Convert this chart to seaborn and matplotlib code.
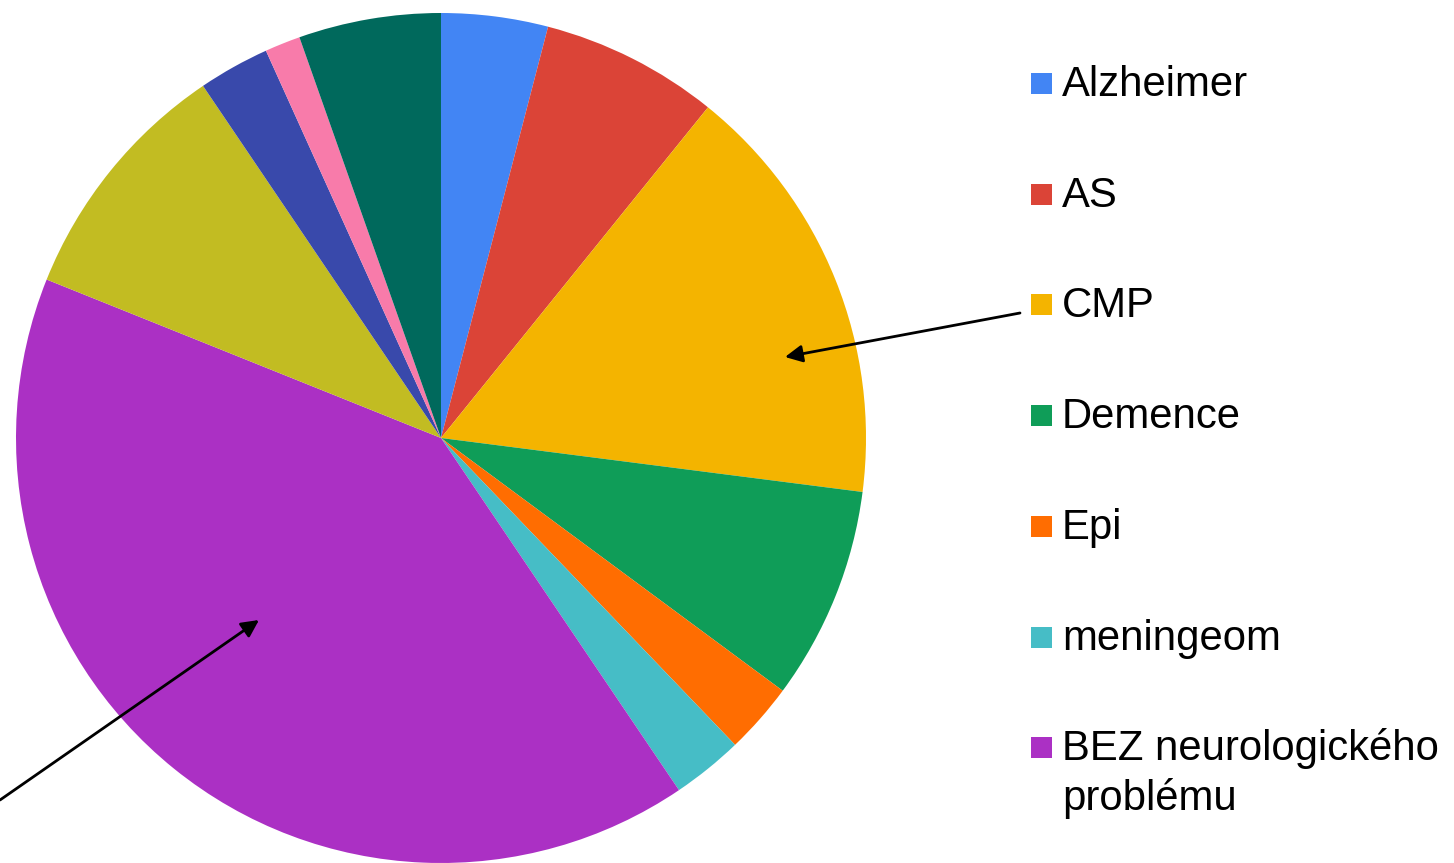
import matplotlib
matplotlib.use("Agg")
import matplotlib.pyplot as plt
from matplotlib.patches import Rectangle
from matplotlib.transforms import IdentityTransform
import seaborn as sns

# slice data, clockwise from 12 o'clock
labels = ["Alzheimer", "AS", "CMP", "Demence", "Epi", "meningeom",
          "BEZ neurologického\nproblému", "Parkinson", "RS", "CMP + Demence", "jiné"]
counts = [3, 5, 12, 6, 2, 2, 30, 7, 2, 1, 4]
colors = ["#4285F4", "#DB4437", "#F4B400", "#0F9D58", "#FF6D01", "#46BDC6",
          "#AB30C4", "#C2BC22", "#3949AB", "#F87BAA", "#00695C"]
n_legend = 7  # only the first seven fit in the visible legend

sns.set_theme(style="white")
plt.rcParams["font.family"] = ["Liberation Sans", "DejaVu Sans"]

W, H = 1454, 863
fig = plt.figure(figsize=(W / 100, H / 100), dpi=100)

# pie centre at (441, 438) px from top, radius 425 px
cx, cy, r = 441, H - 438, 425
ax = fig.add_axes([(cx - r) / W, (cy - r) / H, 2 * r / W, 2 * r / H])
wedges, _ = ax.pie(counts, colors=sns.color_palette(colors), startangle=90,
                   counterclock=False, radius=1,
                   wedgeprops=dict(linewidth=0, antialiased=True))
ax.set_xlim(-1, 1)
ax.set_ylim(-1, 1)
ax.set_aspect("equal")
ax.axis("off")

# legend drawn by hand so the two-line entry keeps its square on the first line
base0, step = 96, 110.7   # baseline of first row (px from top), row pitch
for i in range(n_legend):
    base = H - (base0 + i * step)
    fig.patches.append(Rectangle((1031, base + 2), 21, 21, transform=IdentityTransform(),
                                 facecolor=wedges[i].get_facecolor(), edgecolor="none",
                                 figure=fig))
    for j, line in enumerate(labels[i].split("\n")):
        fig.text(1062 / W, (base - j * 50) / H, line, fontsize=30.2,
                 color="black", ha="left", va="baseline")

# callout arrows
arrow = dict(arrowstyle="-|>", color="black", lw=2, mutation_scale=26,
             shrinkA=0, shrinkB=0)
ax.annotate("", xy=(785, H - 357), xycoords="figure pixels",
            xytext=(1020, H - 313), textcoords="figure pixels", arrowprops=arrow)
ax.annotate("", xy=(259, H - 620), xycoords="figure pixels",
            xytext=(0, H - 800), textcoords="figure pixels", arrowprops=arrow)

fig.savefig("out.png", dpi=100, facecolor="white")
